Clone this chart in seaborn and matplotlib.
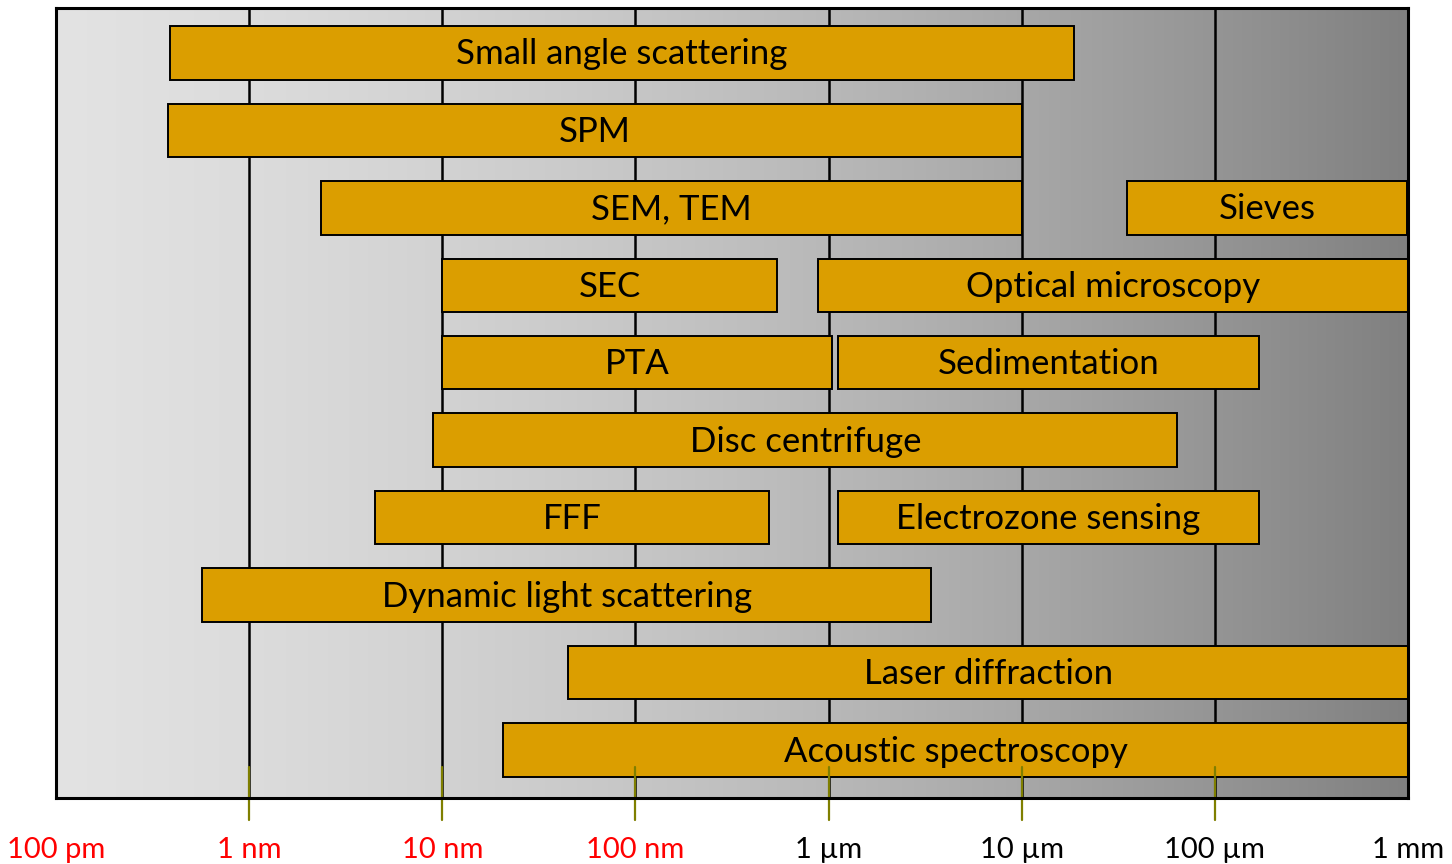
import numpy as np
import matplotlib
matplotlib.use("Agg")
import matplotlib.pyplot as plt
import matplotlib.transforms as mtransforms
import seaborn as sns

# ---- data (sizes in nm) ----
methods = ["Small angle scattering", "SPM", "SEM, TEM", "Sieves", "SEC",
           "Optical microscopy", "PTA", "Sedimentation", "Disc centrifuge",
           "FFF", "Electrozone sensing", "Dynamic light scattering",
           "Laser diffraction", "Acoustic spectroscopy"]
rows = [0, 1, 2, 2, 3, 3, 4, 4, 5, 6, 6, 7, 8, 9]
start_nm = [0.39, 0.38, 2.36, 35000, 10, 880, 10, 1120, 9.0, 4.5, 1120, 0.57, 45, 20.6]
end_nm = [18600, 10000, 10000, 990000, 540, 1000000, 1040, 169000, 64000,
          490, 169000, 3400, 1000000, 1000000]

tick_values_nm = [0.1, 1, 10, 100, 1000, 10000, 100000, 1000000]
tick_labels = ["100 pm", "1 nm", "10 nm", "100 nm", "1 µm", "10 µm", "100 µm", "1 mm"]
tick_colors = ["#ff0000", "#ff0000", "#ff0000", "#ff0000", "black", "black", "black", "black"]

sns.set_theme(style="white")
plt.rcParams["font.family"] = ["Lato", "DejaVu Sans"]

fig = plt.figure(figsize=(14.52, 8.64), dpi=100)
ax = fig.add_axes([56 / 1452, 1 - 798 / 864, (1408 - 56) / 1452, (798 - 8) / 864])
ax.set_xscale("log")

# background gradient
t = np.linspace(0, 1, 512)
shade = (227 - 43.6 * t - 55.4 * t ** 2) / 255.0
grad = np.dstack([shade, shade, shade]).repeat(2, axis=0)
ax.imshow(grad, extent=[0, 1, 0, 1], transform=ax.transAxes, aspect="auto",
          zorder=0, interpolation="bilinear")

# vertical gridlines
for v in tick_values_nm[1:-1]:
    ax.axvline(v, color="black", lw=1.8, zorder=1)

bar_color = "#DB9E00"
widths = [e - s for s, e in zip(start_nm, end_nm)]
ax.barh(rows, widths, left=start_nm, height=0.69, color=bar_color,
        edgecolor="black", linewidth=1.4, zorder=3)

for name, r, s, e in zip(methods, rows, start_nm, end_nm):
    ax.text(np.sqrt(s * e), r + 0.02, name, ha="center", va="center",
            fontsize=25, color="black", zorder=4)

ax.set_xlim(tick_values_nm[0], tick_values_nm[-1])
ax.set_ylim(9.62, -0.58)
ax.set_yticks([])

# olive tick marks crossing the bottom spine
trans = mtransforms.blended_transform_factory(ax.transData, ax.transAxes)
for v in tick_values_nm[1:-1]:
    ax.plot([v, v], [-22 / 790, 31 / 790], color="#7f7f00", lw=1.6,
            transform=trans, clip_on=False, zorder=5)

ax.set_xticks(tick_values_nm)
ax.set_xticklabels(tick_labels)
ax.minorticks_off()
ax.tick_params(axis="x", length=0, pad=28, labelsize=21)
for lbl, c in zip(ax.get_xticklabels(), tick_colors):
    lbl.set_color(c)

for side in ["left", "right", "top", "bottom"]:
    ax.spines[side].set_visible(True)
    ax.spines[side].set_color("black")
    ax.spines[side].set_linewidth(2.2)
    ax.spines[side].set_zorder(6)

fig.savefig("out.png", dpi=100)
